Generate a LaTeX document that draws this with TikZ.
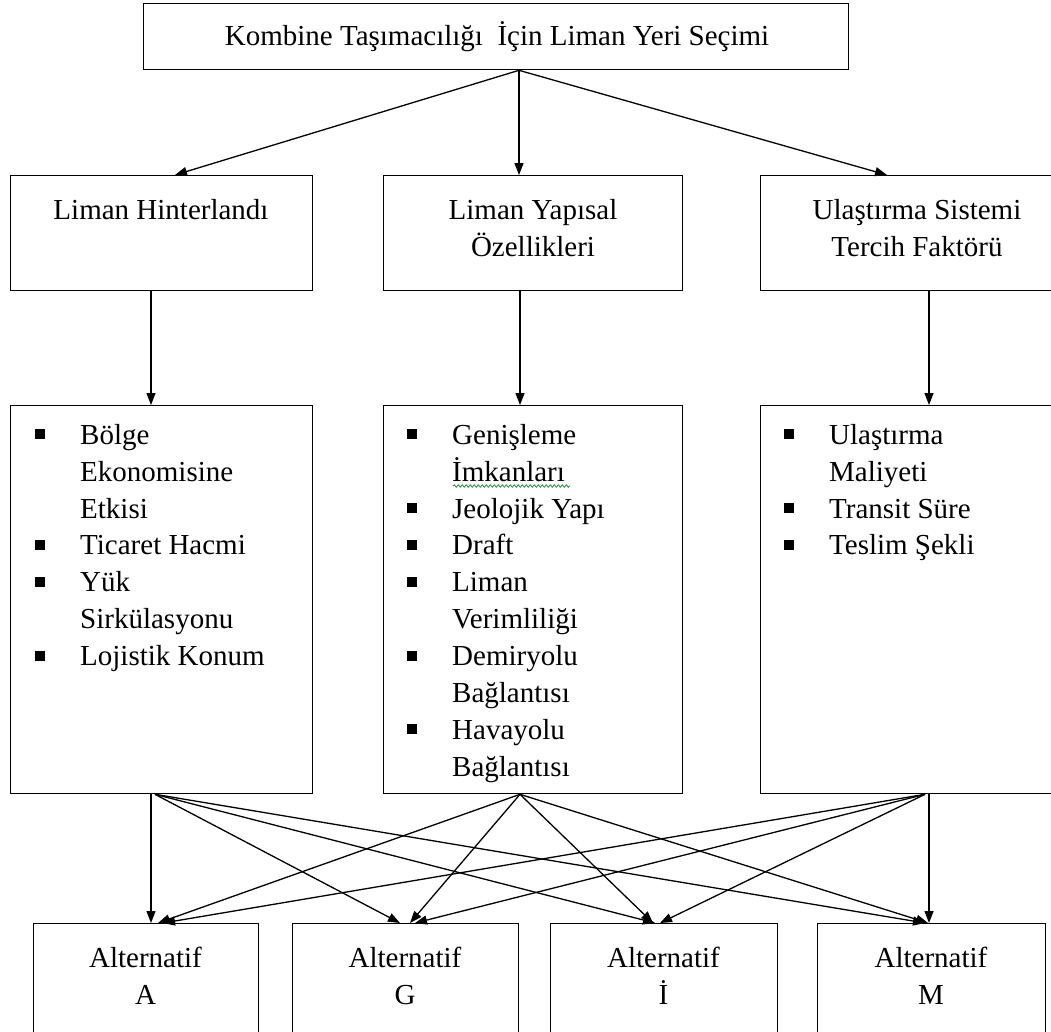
\documentclass[tikz,border=0pt]{standalone}
\usepackage{fontspec}
\setmainfont{Liberation Serif}
\usetikzlibrary{arrows.meta,calc,decorations.pathmorphing}
\newcommand{\lbul}{\strut\makebox[45pt][l]{\rule[5pt]{10pt}{10pt}}}
\newcommand{\lind}{\strut\hspace*{45pt}}
\begin{document}
\begin{tikzpicture}[x=1pt,y=-1pt,
  box/.style={draw=black,line width=1.3pt,rectangle,anchor=north west,inner sep=0pt},
  lbl/.style={inner sep=0pt,align=center,anchor=north,font=\fontsize{29}{36.9}\selectfont},
  lst/.style={inner sep=0pt,align=left,anchor=north west,font=\fontsize{29}{36.9}\selectfont},
  con/.style={line width=1.3pt,-{Triangle[length=12pt,width=9pt]}},
  squig/.style={draw={rgb,255:red,40;green,140;blue,60},line width=0.8pt,decorate,decoration={snake,amplitude=1.2pt,segment length=4pt}}]
\useasboundingbox (0,0) rectangle (1051,1031);

% top
\node[box,minimum width=705pt,minimum height=66pt] (top) at (143,3) {};
\node[lbl] (ttop) at (497,19.2) {\strut Kombine Taşımacılığı\ \ İçin Liman Yeri Seçimi};

% level 2
\node[box,minimum width=302pt,minimum height=115pt] (h1) at (10,175) {};
\node[box,minimum width=299pt,minimum height=115pt] (h2) at (383,175) {};
\node[box,minimum width=302pt,minimum height=115pt] (h3) at (760,175) {};
\node[lbl] (th1) at (161,193.2) {\strut Liman Hinterlandı};
\node[lbl] (th2) at (533,193.2) {\strut Liman Yapısal\\\strut Özellikleri};
\node[lbl] (th3) at (917,193.2) {\strut Ulaştırma Sistemi\\\strut Tercih Faktörü};

% level 3
\node[box,minimum width=302pt,minimum height=388pt] (k1) at (10,405) {};
\node[box,minimum width=299pt,minimum height=388pt] (k2) at (383,405) {};
\node[box,minimum width=302pt,minimum height=388pt] (k3) at (760,405) {};
\node[lst] (tk1) at (35,418.2) {\lbul Bölge\\\lind Ekonomisine\\\lind Etkisi\\\lbul Ticaret Hacmi\\\lbul Yük\\\lind Sirkülasyonu\\\lbul Lojistik Konum};
\node[lst] (tk2) at (407,418.2) {\lbul Genişleme\\\lind İmkanları\\\lbul Jeolojik Yapı\\\lbul Draft\\\lbul Liman\\\lind Verimliliği\\\lbul Demiryolu\\\lind Bağlantısı\\\lbul Havayolu\\\lind Bağlantısı};
\node[lst] (tk3) at (784,418.2) {\lbul Ulaştırma\\\lind Maliyeti\\\lbul Transit Süre\\\lbul Teslim Şekli};
\coordinate (sq1) at (453,486);
\coordinate (sq2) at (570,486);
\draw[squig] (sq1) -- (sq2);

% bottom
\node[box,minimum width=225pt,minimum height=120pt] (a1) at (33,923) {};
\node[box,minimum width=226pt,minimum height=120pt] (a2) at (292,923) {};
\node[box,minimum width=227pt,minimum height=120pt] (a3) at (550,923) {};
\node[box,minimum width=228pt,minimum height=120pt] (a4) at (817,923) {};
\node[lbl] (ta1) at (145.5,941.2) {\strut Alternatif\\\strut A};
\node[lbl] (ta2) at (405,941.2) {\strut Alternatif\\\strut G};
\node[lbl] (ta3) at (663.5,941.2) {\strut Alternatif\\\strut İ};
\node[lbl] (ta4) at (931,941.2) {\strut Alternatif\\\strut M};

% connectors top -> level 2
\coordinate (o0) at ($(top.south west)+(376,0)$);
\coordinate (e1) at ($(h1.north west)+(165,0)$);
\coordinate (e2) at ($(h2.north west)+(136,0)$);
\coordinate (e3) at ($(h3.north west)+(127,0)$);
\draw[con] (o0) -- (e1);
\draw[con] (o0) -- (e2);
\draw[con] (o0) -- (e3);

% level 2 -> level 3
\coordinate (p1) at ($(h1.south west)+(141,0)$);
\coordinate (q1) at ($(k1.north west)+(141,0)$);
\coordinate (p2) at ($(h2.south west)+(137,0)$);
\coordinate (q2) at ($(k2.north west)+(137,0)$);
\coordinate (p3) at ($(h3.south west)+(169,0)$);
\coordinate (q3) at ($(k3.north west)+(169,0)$);
\draw[con] (p1) -- (q1);
\draw[con] (p2) -- (q2);
\draw[con] (p3) -- (q3);

% level 3 -> alternatives
\coordinate (oLv) at ($(k1.south west)+(141,0)$);
\coordinate (oL) at ($(k1.south west)+(145,0)$);
\coordinate (oM) at ($(k2.south west)+(137,0)$);
\coordinate (oRv) at ($(k3.south west)+(169,0)$);
\coordinate (oR) at ($(k3.south west)+(165,0)$);

\coordinate (aL) at ($(a1.north west)+(118,0)$);
\coordinate (aM) at ($(a1.north west)+(125,0)$);
\coordinate (aR) at ($(a1.north west)+(130,0)$);
\coordinate (gL) at ($(a2.north west)+(108,0)$);
\coordinate (gM) at ($(a2.north west)+(118,0)$);
\coordinate (gR) at ($(a2.north west)+(123,0)$);
\coordinate (iL) at ($(a3.north west)+(105,0)$);
\coordinate (iM) at ($(a3.north west)+(103,0)$);
\coordinate (iR) at ($(a3.north west)+(110,0)$);
\coordinate (mL) at ($(a4.north west)+(108,0)$);
\coordinate (mM) at ($(a4.north west)+(111,0)$);
\coordinate (mR) at ($(a4.north west)+(112,0)$);

\draw[con] (oLv) -- (aL);
\draw[con] (oL) -- (gL);
\draw[con] (oL) -- (iL);
\draw[con] (oL) -- (mL);
\draw[con] (oM) -- (aM);
\draw[con] (oM) -- (gM);
\draw[con] (oM) -- (iM);
\draw[con] (oM) -- (mM);
\draw[con] (oR) -- (aR);
\draw[con] (oR) -- (gR);
\draw[con] (oR) -- (iR);
\draw[con] (oRv) -- (mR);
\end{tikzpicture}
\end{document}
